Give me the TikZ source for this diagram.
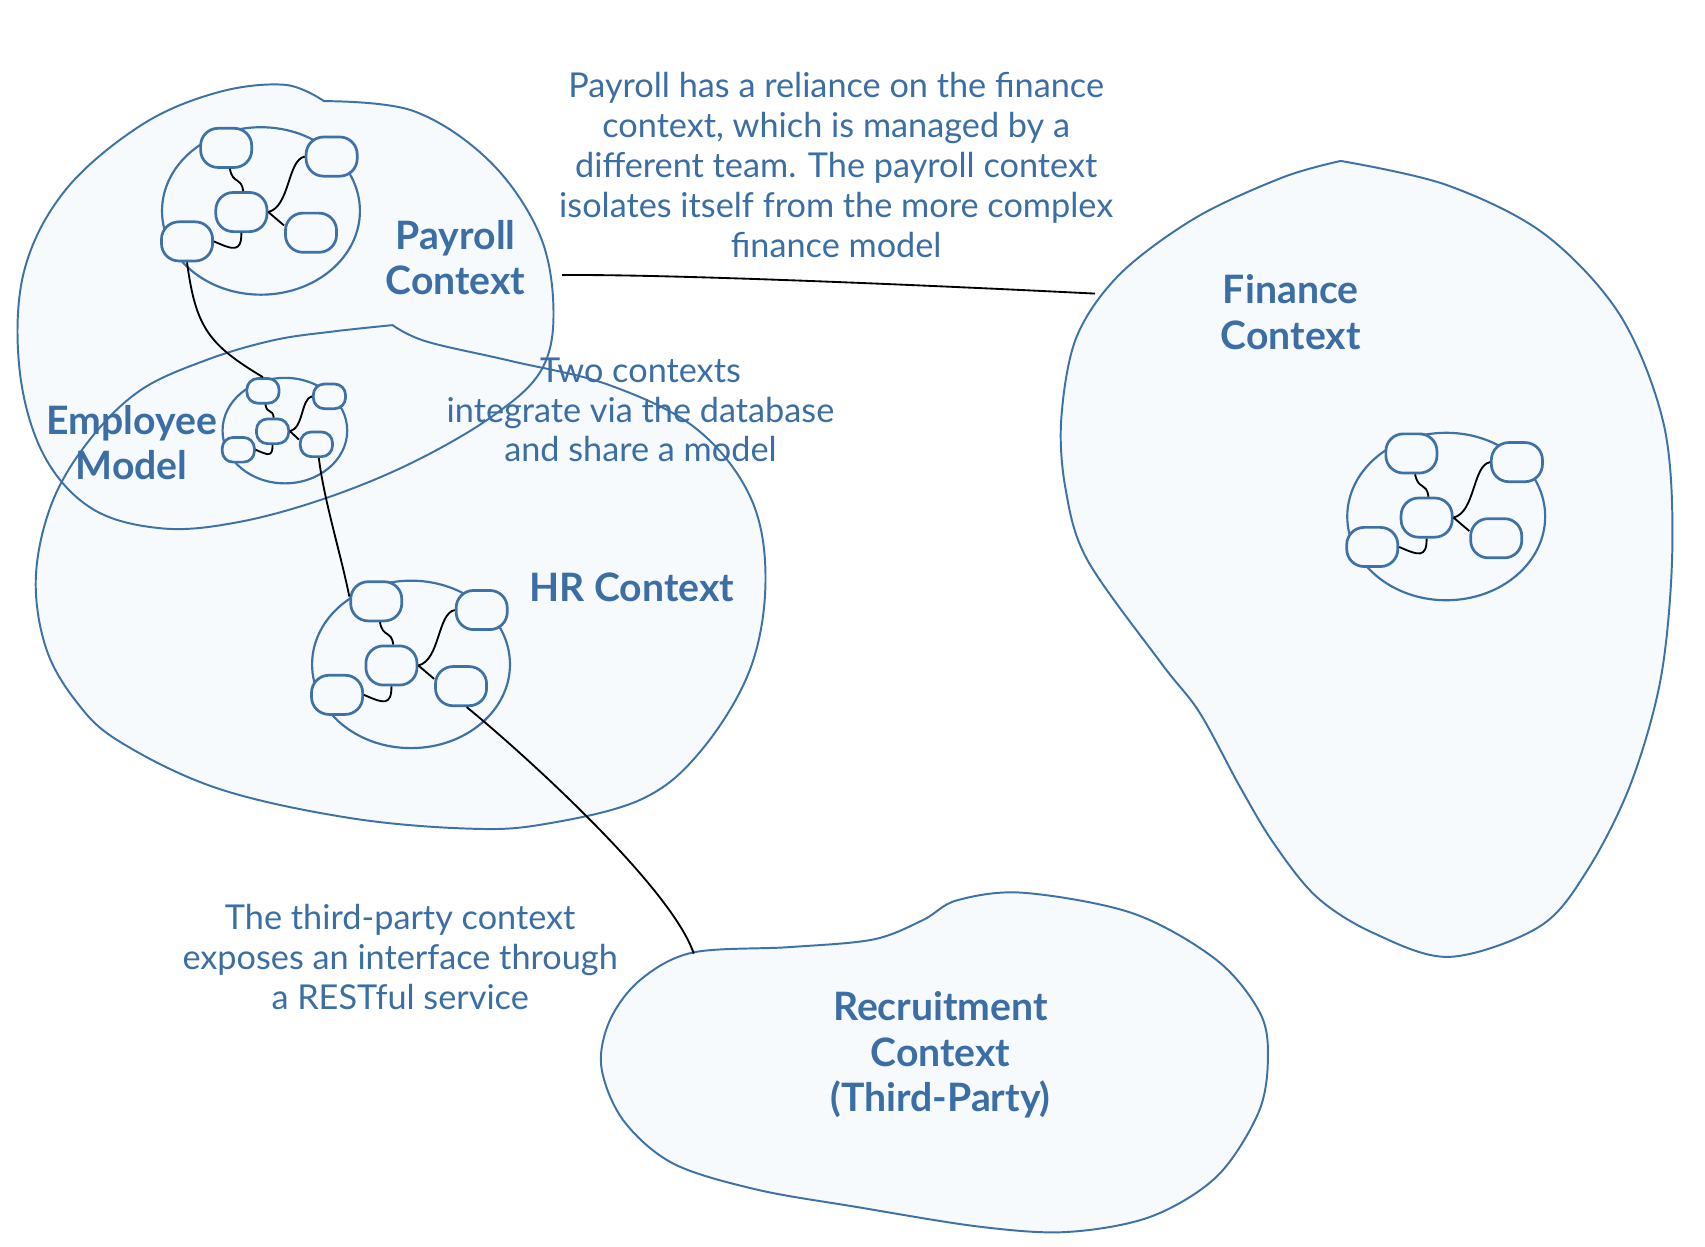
\documentclass[tikz,border=0pt]{standalone}
\usepackage{fontspec}
\setmainfont{Lato}
\usetikzlibrary{shapes.geometric}
\definecolor{lineblue}{HTML}{3E72A6}
\definecolor{textblue}{HTML}{3B6EA5}
\definecolor{blobfill}{HTML}{F7FAFD}
\tikzset{
  blobline/.style={draw=lineblue, line width=0.9pt},
  blobfillst/.style={fill=blobfill},
  clell/.style={ellipse, draw=lineblue, line width=1pt, fill=blobfill, inner sep=0pt},
  clbox/.style={rectangle, draw=lineblue, line width=1.25pt, fill=blobfill, inner sep=0pt},
  conn/.style={draw=black, line width=0.85pt},
  note/.style={align=center, text=textblue, inner sep=0pt, font=\fontsize{15.75}{18.35}\selectfont},
  lbl/.style={align=center, text=textblue, inner sep=0pt, font=\fontsize{18}{20.75}\selectfont\bfseries},
}
\newcommand{\mycluster}[4]{%
  \begin{scope}[shift={(#2,#3)}, scale=#4]
    \node[clell, minimum width=#4*182pt*0.5, minimum height=#4*154pt*0.5] (#1) at (0,0) {};
    \node[clbox, minimum width=#4*23.5pt, minimum height=#4*18pt, rounded corners=#4*8pt] (#1-a) at (-32,-58) {};
    \node[clbox, minimum width=#4*23.5pt, minimum height=#4*18pt, rounded corners=#4*8pt] (#1-b) at (65,-50) {};
    \node[clbox, minimum width=#4*23.5pt, minimum height=#4*18pt, rounded corners=#4*8pt] (#1-c) at (-18,1) {};
    \node[clbox, minimum width=#4*23.5pt, minimum height=#4*18pt, rounded corners=#4*8pt] (#1-d) at (-68,28) {};
    \node[clbox, minimum width=#4*23.5pt, minimum height=#4*18pt, rounded corners=#4*8pt] (#1-e) at (46,20) {};
    \draw[conn] (#1-a.-80) .. controls +(3,15) and +(-2,-14) .. (#1-c.85);
    \draw[conn] (#1-b.west) .. controls +(-16,3) and +(20,-5) .. (#1-c.east);
    \draw[conn] (#1-c.east) -- (#1-e.165);
    \draw[conn] (#1-c.south) .. controls +(0,18) and +(18,8) .. (#1-d.east);
  \end{scope}}
\begin{document}
\begin{tikzpicture}[x=0.5pt, y=-0.5pt]
\fill[white] (0,0) rectangle (1568,1146);
\useasboundingbox (0,0) rectangle (1568,1146);
% blob paths
\def\payrollpath{(298,93) plot[smooth, tension=0.6] coordinates {(298,93) (380,102) (450,148) (496,215) (509,285) (498,340) (454,382) (380,425) (300,458) (220,480) (150,486) (85,468) (40,418) (18,340) (22,250) (60,175) (130,115) (200,85) (262,78) (298,93)} -- cycle}
\def\hrpath{(361,299) plot[smooth, tension=0.6] coordinates {(361,299) (392,314) (470,332) (560,354) (640,394) (690,457) (704,532) (690,615) (645,690) (590,735) (500,758) (430,762) (320,752) (200,725) (110,682) (70,645) (42,595) (33,530) (48,462) (82,405) (129,359) (190,331) (251,313) (305,305) (361,299)} -- cycle}
\def\financepath{(1233,148) plot[smooth, tension=0.55] coordinates {(1233,148) (1330,170) (1420,215) (1490,290) (1530,390) (1538,500) (1528,620) (1500,720) (1460,800) (1416,852) (1333,880) (1263,858) (1211,825) (1171,775) (1140,723) (1103,655) (1068,610) (1000,515) (980,450) (976,385) (990,310) (1030,252) (1100,200) (1180,163) (1233,148)} -- cycle}
\def\recpath{plot[smooth cycle, tension=0.55] coordinates {(637,876) (726,871) (803,864) (849,846) (880,828) (941,821) (1042,840) (1119,883) (1159,932) (1166,975) (1157,1024) (1119,1082) (1058,1119) (981,1133) (900,1128) (788,1110) (696,1094) (619,1070) (573,1030) (553,981) (561,938) (589,901)}}
\fill[blobfillst] \financepath;
\fill[blobfillst] \recpath;
\fill[blobfillst] \hrpath;
\fill[blobfillst] \payrollpath;
\draw[blobline] \financepath;
\draw[blobline] \recpath;
\draw[blobline] \hrpath;
\draw[blobline] \payrollpath;
% clusters
\mycluster{pay}{240}{194}{1}
\mycluster{emp}{262}{396}{0.63}
\mycluster{hr}{378}{611}{1}
\mycluster{fin}{1330}{475}{1}
% free ends
\coordinate (rec-top) at (638,877);
\coordinate (pf-a) at (517,253);
\coordinate (pf-b) at (1007,270);
% long connectors
\draw[conn] (pay-d.south) .. controls +(8,60) and +(-50,-30) .. (emp-a.north);
\draw[conn] (emp-e.-80) .. controls +(5,40) and +(-8,-40) .. (hr-a.170);
\draw[conn] (hr-e.-75) .. controls +(55,45) and +(-20,-60) .. (rec-top);
\draw[conn] (pf-a) .. controls +(80,-1) and +(-200,-10) .. (pf-b);
% labels
\node[lbl] (l-pay) at (419,237) {Payroll\\Context};
\node[lbl] (l-emp) at (121,407) {Employee\\Model};
\node[lbl] (l-hr) at (581,540) {HR Context};
\node[lbl] (l-fin) at (1187,287) {Finance\\Context};
\node[lbl] (l-rec) at (865,970) {Recruitment\\Context\\(Third-Party)};
% notes
\node[note] (n-fin) at (769,151.5) {Payroll has a reliance on the finance\\context, which is managed by a\\different team. The payroll context\\isolates itself from the more complex\\finance model};
\node[note] (n-db) at (589,377) {Two contexts\\integrate via the database\\and share a model};
\node[note] (n-rest) at (368,880) {The third-party context\\exposes an interface through\\a RESTful service};
\end{tikzpicture}
\end{document}
